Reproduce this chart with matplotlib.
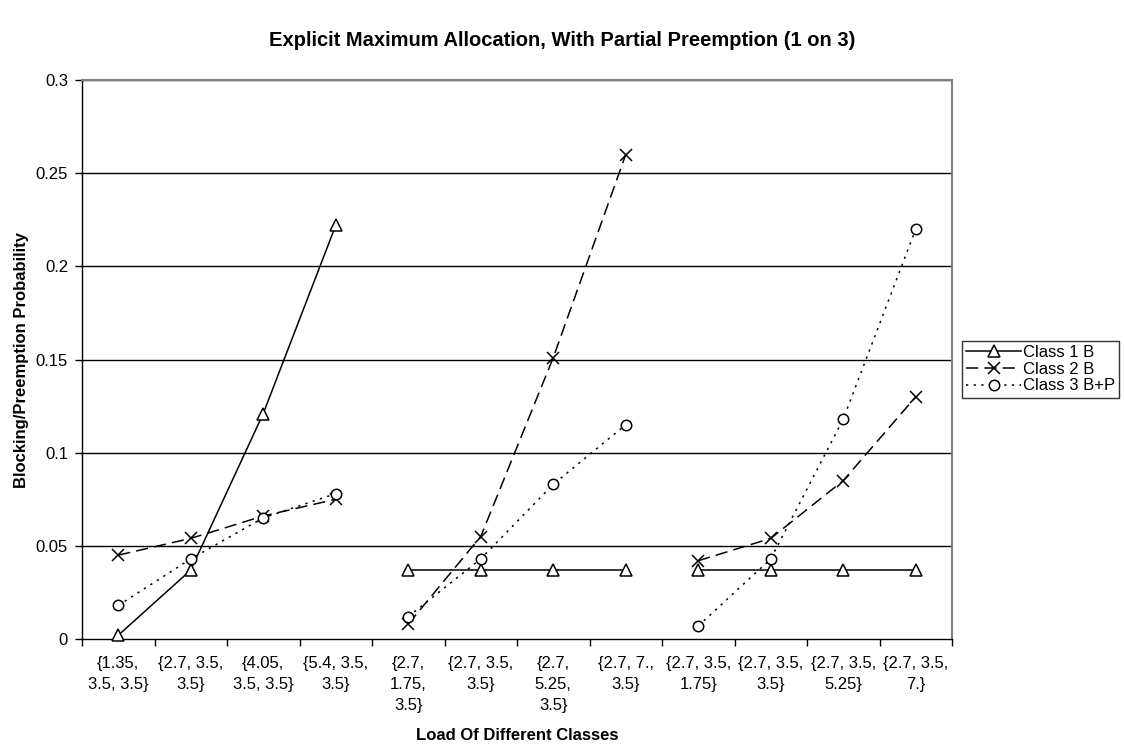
import numpy as np
import matplotlib
matplotlib.use("Agg")
import matplotlib.pyplot as plt

plt.rcParams['font.family'] = ['Liberation Sans', 'DejaVu Sans']

# load combinations on the x axis (three groups of four)
loads = ["{1.35,\n3.5, 3.5}", "{2.7, 3.5,\n3.5}", "{4.05,\n3.5, 3.5}", "{5.4, 3.5,\n3.5}",
         "{2.7,\n1.75,\n3.5}", "{2.7, 3.5,\n3.5}", "{2.7,\n5.25,\n3.5}", "{2.7, 7.,\n3.5}",
         "{2.7, 3.5,\n1.75}", "{2.7, 3.5,\n3.5}", "{2.7, 3.5,\n5.25}", "{2.7, 3.5,\n7.}"]

class1_b = [0.002, 0.037, 0.121, 0.222,
            0.037, 0.037, 0.037, 0.037,
            0.037, 0.037, 0.037, 0.037]
class2_b = [0.045, 0.054, 0.066, 0.075,
            0.008, 0.055, 0.151, 0.260,
            0.042, 0.054, 0.085, 0.130]
class3_bp = [0.018, 0.043, 0.065, 0.078,
             0.012, 0.043, 0.083, 0.115,
             0.007, 0.043, 0.118, 0.220]

yticks = [0, 0.05, 0.1, 0.15, 0.2, 0.25, 0.3]
ytick_labels = ["0", "0.05", "0.1", "0.15", "0.2", "0.25", "0.3"]

fig = plt.figure(figsize=(11.24, 7.45), dpi=100)
ax = fig.add_axes([82 / 1124, 1 - 639 / 745, 870 / 1124, 559 / 745])

x = np.arange(len(loads))
styles = [
    ("Class 1 B", class1_b, dict(linestyle='-', marker='^', markersize=8.5)),
    ("Class 2 B", class2_b, dict(linestyle=(0, (8, 4)), marker='x', markersize=8.5)),
    ("Class 3 B+P", class3_bp, dict(linestyle=(0, (1.5, 3.5)), marker='o', markersize=7.5)),
]

handles = []
for name, vals, st in styles:
    vals = np.array(vals)
    for g in range(3):
        sl = slice(4 * g, 4 * g + 4)
        ln, = ax.plot(x[sl], vals[sl], color='black', linewidth=1.1,
                      markerfacecolor='white', markeredgecolor='black',
                      markeredgewidth=1.1, label=name if g == 0 else None,
                      clip_on=False, zorder=3, **st)
        if g == 0:
            handles.append(ln)

ax.set_xlim(-0.5, 11.5)
ax.set_ylim(0, 0.3)
ax.set_yticks(yticks)
ax.set_yticklabels(ytick_labels, fontsize=12)
for yv in yticks[1:]:
    ax.axhline(yv, color='black', linewidth=1.0, zorder=1)

# tick marks between categories, labels at the centers
ax.set_xticks(np.arange(-0.5, 12, 1))
ax.set_xticklabels([])
ax.set_xticks(x, minor=True)
ax.set_xticklabels(loads, minor=True, fontsize=12, linespacing=1.5)
ax.tick_params(axis='x', which='major', direction='out', length=5, width=1)
ax.tick_params(axis='x', which='minor', length=0, pad=12)
ax.tick_params(axis='y', direction='out', length=5, width=1, pad=5)

for s in ['top', 'right']:
    ax.spines[s].set_color('#808080')
    ax.spines[s].set_linewidth(1.5)
for s in ['left', 'bottom']:
    ax.spines[s].set_color('black')
    ax.spines[s].set_linewidth(1.0)

ax.set_xlabel("Load Of Different Classes", fontsize=12, fontweight='bold', labelpad=11)
ax.set_ylabel("Blocking/Preemption Probability", fontsize=12, fontweight='bold', labelpad=5)
fig.text(0.5, 1 - 40 / 745, "Explicit Maximum Allocation, With Partial Preemption (1 on 3)",
         ha='center', va='center', fontsize=14.5, fontweight='bold')

leg = fig.legend(handles=handles, loc='upper left', bbox_to_anchor=(962 / 1124, 1 - 341 / 745),
                 fontsize=12, frameon=True, fancybox=False, handlelength=3.3,
                 handletextpad=0.1, borderpad=0.25, labelspacing=0.1, borderaxespad=0)
leg.get_frame().set_edgecolor('black')
leg.get_frame().set_linewidth(1.0)

fig.savefig("out.png", dpi=100)
